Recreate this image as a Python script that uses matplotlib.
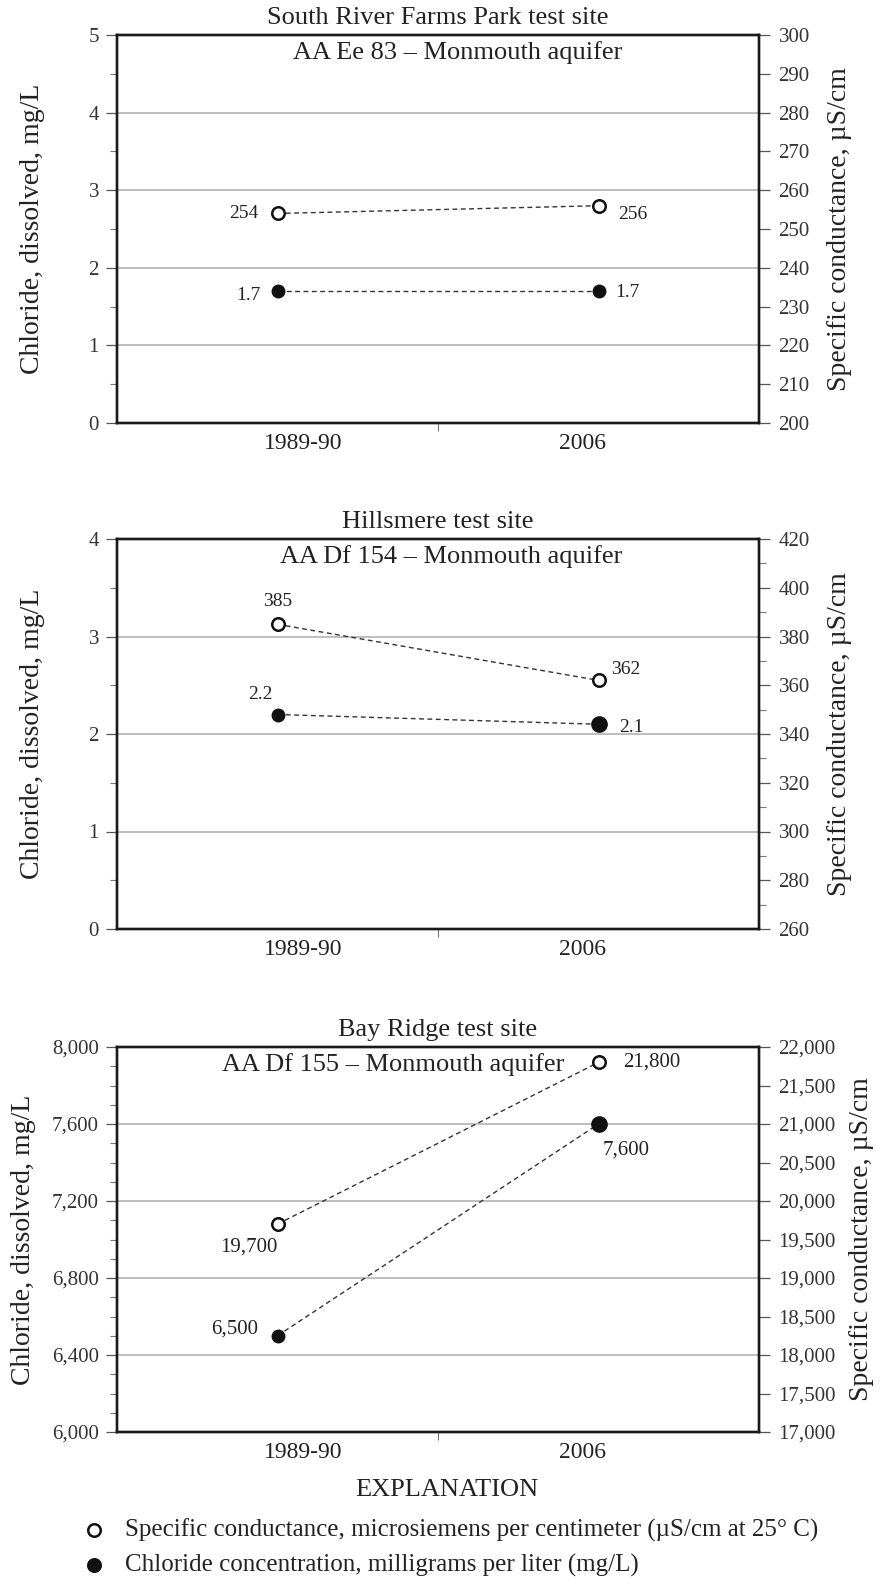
import matplotlib
matplotlib.use("Agg")
import matplotlib.pyplot as plt
from matplotlib.ticker import MultipleLocator, FuncFormatter, FixedLocator

plt.rcParams["font.family"] = ["Liberation Serif", "DejaVu Serif"]

# ── Data ──────────────────────────────────────────────────────────────────────
periods = ["1989-90", "2006"]
period_pos = [1, 3]

site_titles = ["South River Farms Park test site",
               "Hillsmere test site",
               "Bay Ridge test site"]
well_titles = ["AA Ee 83 \u2013 Monmouth aquifer",
               "AA Df 154 \u2013 Monmouth aquifer",
               "AA Df 155 \u2013 Monmouth aquifer"]

chloride = [[1.7, 1.7], [2.2, 2.1], [6500, 7600]]
conductance = [[254, 256], [385, 362], [19700, 21800]]

chloride_labels = [["1.7", "1.7"], ["2.2", "2.1"], ["6,500", "7,600"]]
conductance_labels = [["254", "256"], ["385", "362"], ["19,700", "21,800"]]

# axis ranges (min, max, major, minor) left / right
left_axis = [(0, 5, 1, 0.5), (0, 4, 1, 0.5), (6000, 8000, 400, 100)]
right_axis = [(200, 300, 10, None), (260, 420, 20, 10), (17000, 22000, 500, None)]

# ── Layout (pixels) ───────────────────────────────────────────────────────────
W, H = 883, 1585
panel_box = [(35, 423), (539, 929), (1047, 1432)]
x_left, x_right = 117, 759
left_label_x = [33, 33, 24]
right_label_x = [840, 840, 862]

# label offsets per panel: (dx_pts, dy_pts, ha, va) for [first, second]
cond_off = [[(-14, 0, "right", "center"), (14, -6, "left", "center")],
            [(0, 10, "center", "bottom"), (9, 8, "left", "center")],
            [(0, -10, "right", "top"), (18, 0, "left", "center")]]
chl_off = [[(-12, -3, "right", "center"), (12, -1, "left", "center")],
           [(-12, 8, "center", "bottom"), (15, -2, "left", "center")],
           [(-14, 5, "right", "center"), (3, -12, "left", "top")]]
big_2006 = [False, True, True]
subtitle_x = [0.53, 0.52, 0.43]
ann_size = [14, 14, 15]

fig = plt.figure(figsize=(W / 100, H / 100), dpi=100)

grid_col = "#b9b9b9"
txt_col = "#222222"


def comma_fmt(v, pos):
    return f"{v:,.0f}"


for i in range(3):
    top, bot = panel_box[i]
    ax = fig.add_axes([x_left / W, 1 - bot / H,
                       (x_right - x_left) / W, (bot - top) / H])
    ax2 = ax.twinx()

    lo, hi, maj, mnr = left_axis[i]
    ax.set_ylim(lo, hi)
    ax.yaxis.set_major_locator(MultipleLocator(maj))
    ax.yaxis.set_minor_locator(MultipleLocator(mnr))
    if hi >= 1000:
        ax.yaxis.set_major_formatter(FuncFormatter(comma_fmt))
    ax.grid(True, axis="y", color=grid_col, linewidth=1.3, zorder=0)

    rlo, rhi, rmaj, rmnr = right_axis[i]
    ax2.set_ylim(rlo, rhi)
    ax2.yaxis.set_major_locator(MultipleLocator(rmaj))
    if rmnr:
        ax2.yaxis.set_minor_locator(MultipleLocator(rmnr))
    else:
        ax2.yaxis.set_minor_locator(FixedLocator([]))
    if rhi >= 1000:
        ax2.yaxis.set_major_formatter(FuncFormatter(comma_fmt))

    ax.set_xlim(0, 4)
    ax.set_xticks([1.16, 2.9])
    ax.set_xticklabels(periods, fontsize=17, color=txt_col)
    ax.xaxis.set_minor_locator(FixedLocator([2]))
    ax.tick_params(axis="x", which="major", length=0, pad=7)
    ax.tick_params(axis="x", which="minor", length=6, width=0.8,
                   color="#777777", direction="out")

    ax.tick_params(axis="y", which="major", length=8, width=0.9,
                   color="#555555", labelsize=15, labelcolor="#333333", pad=5)
    ax.tick_params(axis="y", which="minor", length=5, width=0.8,
                   color="#777777")
    ax2.tick_params(axis="y", which="major", length=8, width=0.9,
                    color="#555555", labelsize=15, labelcolor="#333333", pad=6)
    ax2.tick_params(axis="y", which="minor", length=5, width=0.8,
                    color="#777777")

    for a in (ax, ax2):
        for s in a.spines.values():
            s.set_linewidth(1.7)
            s.set_color("#1a1a1a")

    # dashed connecting lines + markers
    ax2.plot(period_pos, conductance[i], color="#333333", linestyle=(0, (3.5, 2.5)),
             linewidth=1.0, zorder=2)
    ax2.plot(period_pos, conductance[i], linestyle="none", marker="o",
             markersize=9, markerfacecolor="white", markeredgecolor="#111111",
             markeredgewidth=1.8, zorder=3)
    ax.plot(period_pos, chloride[i], color="#333333", linestyle=(0, (3.5, 2.5)),
            linewidth=1.0, zorder=2)
    sizes = [9, 11 if big_2006[i] else 9]
    for k in range(2):
        ax.plot(period_pos[k], chloride[i][k], linestyle="none", marker="o",
                markersize=sizes[k], color="#111111", zorder=3)

    for k in range(2):
        dx, dy, ha, va = cond_off[i][k]
        ax2.annotate(conductance_labels[i][k],
                     xy=(period_pos[k], conductance[i][k]),
                     xytext=(dx, dy), textcoords="offset points",
                     ha=ha, va=va, fontsize=ann_size[i], color=txt_col)
        dx, dy, ha, va = chl_off[i][k]
        ax.annotate(chloride_labels[i][k],
                    xy=(period_pos[k], chloride[i][k]),
                    xytext=(dx, dy), textcoords="offset points",
                    ha=ha, va=va, fontsize=ann_size[i], color=txt_col)

    # site title (outside) and well title (inside)
    fig.text((x_left + x_right) / 2 / W, 1 - (top - 17) / H, site_titles[i],
             ha="center", va="center", fontsize=19, color=txt_col)
    ax.text(subtitle_x[i], 1 - 18 / (bot - top), well_titles[i],
            transform=ax.transAxes, ha="center", va="center",
            fontsize=19, color=txt_col, zorder=4)

    # axis labels
    mid = 1 - (top + bot) / 2 / H
    fig.text(left_label_x[i] / W, mid, "Chloride, dissolved, mg/L", rotation=90,
             ha="center", va="center", fontsize=20, color=txt_col)
    fig.text(right_label_x[i] / W, mid, "Specific conductance, \u00b5S/cm",
             rotation=90, ha="center", va="center", fontsize=20, color=txt_col)

# ── Explanation ───────────────────────────────────────────────────────────────
fig.text(447 / W, 1 - 1490 / H, "EXPLANATION", ha="center", va="center",
         fontsize=19, color=txt_col)
legend_items = [
    ("white", "Specific conductance, microsiemens per centimeter (\u00b5S/cm at 25\u00b0 C)"),
    ("#111111", "Chloride concentration, milligrams per liter (mg/L)"),
]
leg_y = [1530, 1565]
for (fc, label), y in zip(legend_items, leg_y):
    fig.lines.append(plt.Line2D([94 / W], [1 - y / H], transform=fig.transFigure,
                                marker="o", markersize=9, markerfacecolor=fc,
                                markeredgecolor="#111111", markeredgewidth=1.8,
                                linestyle="none"))
    fig.text(125 / W, 1 - y / H, label, ha="left", va="center",
             fontsize=18, color=txt_col)

fig.savefig("out.png", dpi=100)
